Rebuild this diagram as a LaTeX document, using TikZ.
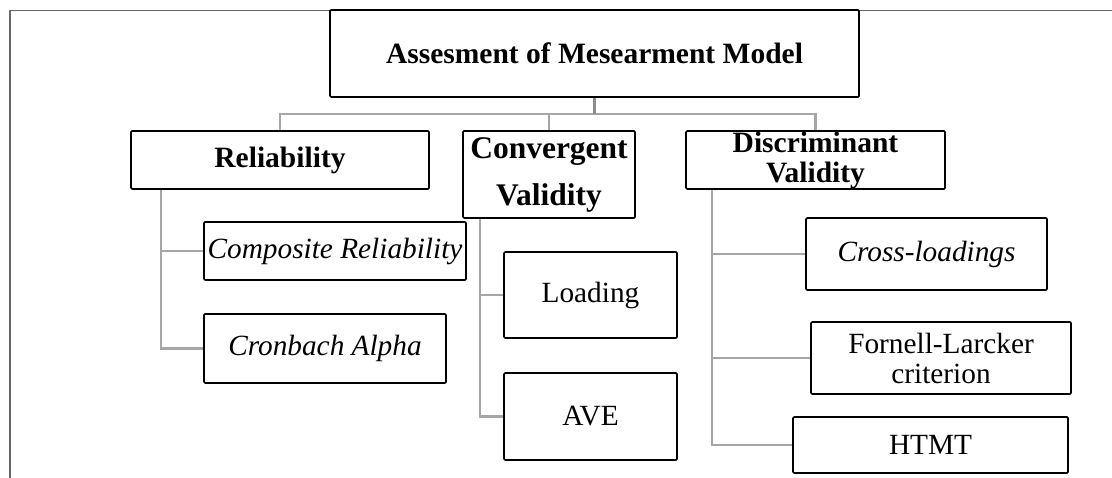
\documentclass[tikz,border=0pt]{standalone}
\usepackage{fontspec}
\setmainfont{Liberation Serif}
\usetikzlibrary{calc}

\definecolor{framegray}{HTML}{666666}
\definecolor{linkgray}{HTML}{A6A6A6}
\definecolor{stubgray}{HTML}{8C8C8C}

\tikzset{
  box/.style={draw=black, line width=1.7pt, rounded corners=1.2pt, fill=white,
              inner sep=0pt, align=center, anchor=center},
  headtext/.style={font=\bfseries\fontsize{29.5}{30}\selectfont},
  leaftext/.style={font=\fontsize{29.3}{30}\selectfont},
  link/.style={draw=linkgray, line width=2.4pt},
  stub/.style={draw=stubgray, line width=3.4pt},
}

\begin{document}
\begin{tikzpicture}[x=1pt, y=-1pt]
  \useasboundingbox (0,0) rectangle (1112,478);

  % page frame (top and left edges)
  \draw[framegray, line width=1.1pt] (10,478) -- (10,10.5) -- (1112,10.5);

  % root
  \node[box, headtext, minimum width=529pt, minimum height=87pt] (main) at (594.5,53.5)
    {Assesment of Mesearment Model};

  % first level
  \node[box, headtext, minimum width=298pt, minimum height=58pt] (rel) at (280,160)
    {Reliability};
  \node[box, font=\bfseries\fontsize{31.5}{47}\selectfont,
        minimum width=172pt, minimum height=87pt] (conv) at (549,174.5)
    {Convergent\\Validity};
  \node[box, headtext, minimum width=259pt, minimum height=58pt] (disc) at (815.5,160)
    {Discriminant\\Validity};

  % reliability measures
  \node[box, leaftext, minimum width=262pt, minimum height=58pt] (comp) at (335,251)
    {\itshape Composite Reliability};
  \node[box, leaftext, minimum width=242pt, minimum height=69pt] (cron) at (325,348.5)
    {\itshape Cronbach Alpha};

  % convergent validity measures
  \node[box, leaftext, minimum width=173pt, minimum height=86pt] (load) at (590.5,295)
    {Loading};
  \node[box, leaftext, minimum width=173pt, minimum height=87pt] (ave) at (590.5,416.5)
    {AVE};

  % discriminant validity measures
  \node[box, leaftext, minimum width=241pt, minimum height=72pt] (cross) at (926.5,254)
    {\itshape Cross-loadings};
  \node[box, leaftext, minimum width=260pt, minimum height=72pt] (forn) at (941,358)
    {Fornell-Larcker\\criterion};
  \node[box, leaftext, minimum width=275pt, minimum height=56pt] (htmt) at (930.5,445)
    {HTMT};

  % root to first level
  \coordinate (bus) at ($(main.south)+(0,16)$);
  \draw[link] (rel.north) |- (bus) -| (disc.north);
  \draw[link] (conv.north) -- (conv.north |- bus);
  \draw[stub] (main.south) -- (bus);

  % rails to the measures
  \coordinate (railR) at ($(rel.south west)+(31,0)$);
  \coordinate (railC) at ($(conv.south west)+(18,0)$);
  \coordinate (railD) at ($(disc.south west)+(27,0)$);

  \draw[link] (railR) |- (cron.west);
  \draw[link] (railR |- comp.west) -- (comp.west);

  \draw[link] (railC) |- (ave.west);
  \draw[link] (railC |- load.west) -- (load.west);

  \draw[link] (railD) |- (htmt.west);
  \draw[link] (railD |- cross.west) -- (cross.west);
  \draw[link] (railD |- forn.west) -- (forn.west);
\end{tikzpicture}
\end{document}
